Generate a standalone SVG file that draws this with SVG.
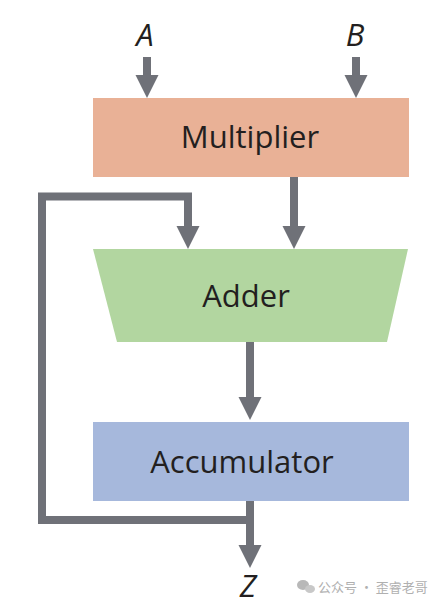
<svg xmlns="http://www.w3.org/2000/svg" width="442" height="606" viewBox="0 0 442 606">
<style>
.lbl{font-family:"Open Sans","Liberation Sans",sans-serif;font-size:31px;fill:#231f20;text-anchor:middle}
.var{font-family:"Open Sans","Liberation Sans",sans-serif;font-style:italic;font-size:31px;fill:#231f20;text-anchor:middle}
.wire{fill:none;stroke:#6f7178;stroke-width:8}
.head{fill:#6f7178}
.wm{font-family:"Noto Sans CJK SC","Noto Sans",sans-serif;font-size:13px;fill:#b0b0b0}
</style>
<rect width="442" height="606" fill="#ffffff"/>
<g id="connectors">
  <line class="wire" x1="147" y1="57" x2="147" y2="76"/>
  <polygon class="head" points="135.5,75 158.5,75 147,98"/>
  <line class="wire" x1="356" y1="57" x2="356" y2="76"/>
  <polygon class="head" points="344.5,75 367.5,75 356,98"/>
  <line class="wire" x1="294" y1="177" x2="294" y2="227"/>
  <polygon class="head" points="282.5,226 305.5,226 294,249"/>
  <polyline class="wire" points="250,520 42,520 42,196.5 188,196.5 188,227"/>
  <polygon class="head" points="176.5,226 199.5,226 188,249"/>
  <line class="wire" x1="250" y1="342" x2="250" y2="399"/>
  <polygon class="head" points="238.5,397 261.5,397 250,420"/>
  <line class="wire" x1="250" y1="501" x2="250" y2="546"/>
  <polygon class="head" points="238.5,545 261.5,545 250,568"/>
</g>
<g id="A"><text class="var" x="145" y="46">A</text></g>
<g id="B"><text class="var" x="355" y="46">B</text></g>
<g id="multiplier">
  <rect x="93" y="98" width="316" height="79" fill="#e9b196"/>
  <text class="lbl" x="250" y="148">Multiplier</text>
</g>
<g id="adder">
  <polygon points="93,249 408,249 387,342 117,342" fill="#b2d6a0"/>
  <text class="lbl" x="246" y="307">Adder</text>
</g>
<g id="accumulator">
  <rect x="93" y="422" width="316" height="79" fill="#a6b8dc"/>
  <text class="lbl" x="242" y="473">Accumulator</text>
</g>
<g id="Z"><text class="var" x="248" y="597">Z</text></g>
<g id="watermark">
  <ellipse cx="303" cy="585" rx="6" ry="5" fill="#b8b8b8"/>
  <ellipse cx="310" cy="589" rx="5" ry="4" fill="#c8c8c8"/>
  <text class="wm" x="318" y="592">公众号 · 歪睿老哥</text>
</g>
</svg>
